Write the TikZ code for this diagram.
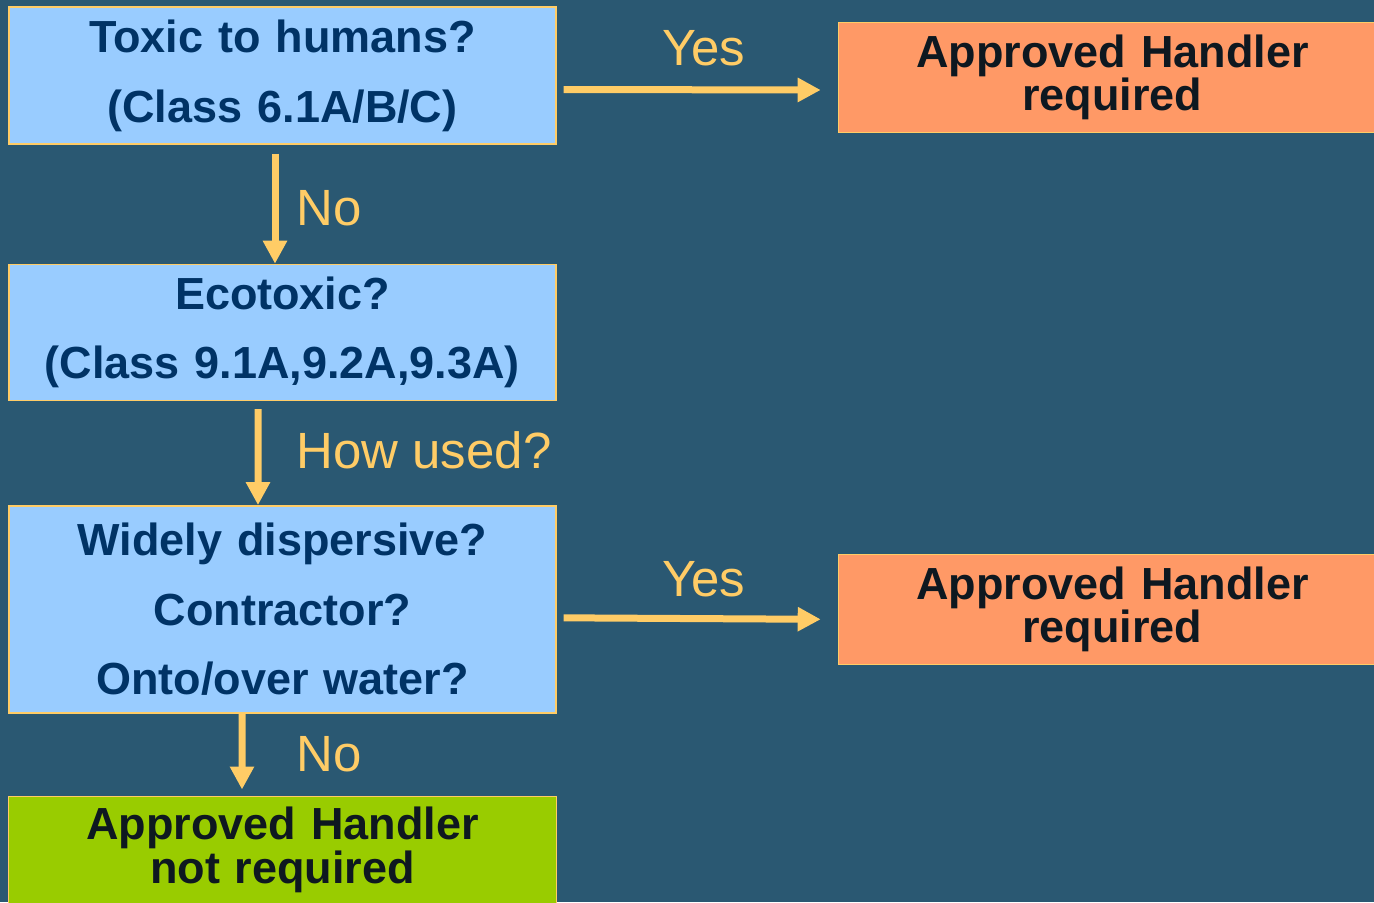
\documentclass[tikz,border=0pt]{standalone}
\usepackage{xcolor}
\usepackage{fontspec}
\setmainfont{Liberation Sans}
\usepackage{tikz}
\usetikzlibrary{arrows.meta, positioning}
\definecolor{bgblue}{HTML}{2A5872}
\definecolor{qblue}{HTML}{99CCFF}
\definecolor{hnorange}{HTML}{FF9966}
\definecolor{okgreen}{HTML}{99CC00}
\definecolor{arrowyellow}{HTML}{FFCC66}
\definecolor{navytext}{HTML}{003366}
\definecolor{darktext}{HTML}{0E1820}
\tikzstyle{question} = [rectangle, minimum width=10.94cm, text width=10.5cm, align=center, inner sep=0pt, draw=arrowyellow, line width=0.8pt, fill=qblue, text=navytext, font=\bfseries\fontsize{25.6}{39.7}\selectfont]
\tikzstyle{outcome} = [rectangle, minimum width=10.96cm, text width=10.5cm, align=center, inner sep=0pt, draw=arrowyellow, line width=0.8pt, text=darktext, font=\bfseries\fontsize{25.6}{23.8}\selectfont]
\tikzstyle{arrow} = [line width=0.14cm, draw=arrowyellow, -{Triangle[length=0.46cm, width=0.46cm]}]
\tikzstyle{answer} = [text=arrowyellow, inner sep=0pt, font=\fontsize{29}{34}\selectfont]

\begin{document}
\begin{tikzpicture}
    \clip (0,0) rectangle (27.48,-18.04);
    \fill [bgblue] (0,0) rectangle (27.48,-18.04);

    \node (toxic) [question, minimum height=2.74cm] at (5.65,-1.51) {Toxic to humans?\\(Class 6.1A/B/C)};
    \node (eco) [question, below=2.38cm of toxic, minimum height=2.72cm] {Ecotoxic?\\(Class 9.1A,9.2A,9.3A)};
    \node (disp) [question, below=2.08cm of eco, minimum height=4.14cm] {Widely dispersive?\\Contractor?\\Onto/over water?};
    \node (notreq) [outcome, below=1.64cm of disp, minimum height=2.14cm, fill=okgreen] {Approved Handler\\not required};
    \node (req1) [outcome, right=5.62cm of toxic, yshift=-0.04cm, minimum height=2.2cm, fill=hnorange] {Approved Handler\\required};
    \node (req2) [outcome, right=5.62cm of disp, minimum height=2.2cm, fill=hnorange] {Approved Handler\\required};

    \draw [arrow] ([shift={(0.14,-0.28)}]toxic.east) -- node[answer, above=0.40cm, xshift=0.23cm] {Yes} ([shift={(-0.34,-0.25)}]req1.west);
    \draw [arrow] ([shift={(0.14,-0.17)}]disp.east) -- node[answer, above=0.36cm, xshift=0.23cm] {Yes} ([shift={(-0.34,-0.2)}]req2.west);
    \draw [arrow] ([shift={(-0.15,-0.18)}]toxic.south) -- node[answer, right=0.36cm] {No} ([xshift=-0.15cm]eco.north);
    \draw [arrow] ([shift={(-0.49,-0.16)}]eco.south) -- node[answer, right=0.70cm, yshift=0.14cm] {How used?} ([xshift=-0.49cm]disp.north);
    \draw [arrow] ([xshift=-0.81cm]disp.south) -- node[answer, right=1.02cm, yshift=-0.06cm] {No} ([shift={(-0.81,0.12)}]notreq.north);
\end{tikzpicture}
\end{document}
